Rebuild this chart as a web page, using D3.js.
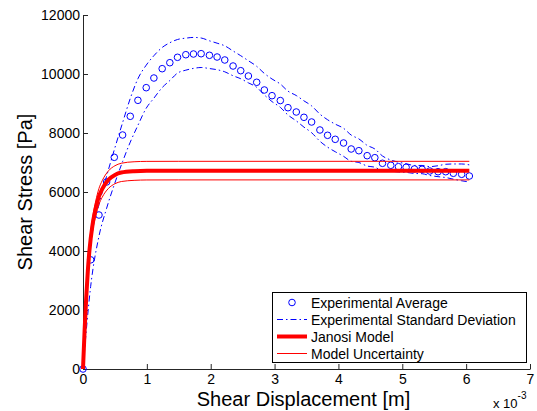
<!DOCTYPE html>
<html>
<head>
<meta charset="utf-8">
<script src="https://cdn.jsdelivr.net/npm/d3@7"></script>
<style>
  html, body { margin: 0; padding: 0; background: #fff; }
  svg { display: block; font-family: "Liberation Sans", Arial, Helvetica, sans-serif; }
</style>
</head>
<body>
<svg id="chart" width="537" height="411"></svg>
<script>
// ---- Data (x in units of 1e-3 m, stress in Pa) ----
const expX = [0, 0.12, 0.25, 0.37, 0.49, 0.62, 0.74, 0.86, 0.99, 1.11, 1.24, 1.36, 1.48, 1.61, 1.73, 1.85, 1.98, 2.10, 2.22, 2.35, 2.47, 2.59, 2.72, 2.84, 2.96, 3.09, 3.21, 3.34, 3.46, 3.58, 3.71, 3.83, 3.95, 4.08, 4.20, 4.32, 4.45, 4.57, 4.69, 4.82, 4.94, 5.06, 5.19, 5.31, 5.43, 5.56, 5.68, 5.80, 5.93, 6.05];
const expAvg = [0, 3700, 5220, 6340, 7176, 7932, 8566, 9108, 9536, 9864, 10180, 10383, 10566, 10654, 10678, 10688, 10634, 10576, 10475, 10271, 10112, 9932, 9719, 9458, 9265, 9100, 8858, 8712, 8532, 8373, 8102, 7922, 7786, 7661, 7458, 7400, 7231, 7163, 6973, 6905, 6858, 6837, 6780, 6770, 6712, 6688, 6688, 6634, 6600, 6542];
const stdUpper = [0, 4400, 5570, 6540, 7430, 8350, 9170, 9840, 10300, 10620, 10900, 11060, 11170, 11215, 11240, 11220, 11125, 11045, 10955, 10780, 10620, 10450, 10260, 10020, 9830, 9660, 9420, 9270, 9090, 8920, 8640, 8450, 8300, 8160, 7930, 7800, 7580, 7460, 7220, 7085, 7010, 6960, 6900, 6900, 6860, 6890, 6940, 6950, 6950, 6920];
const stdLower = [0, 2800, 4500, 5450, 6250, 7030, 7690, 8260, 8840, 9180, 9540, 9780, 10030, 10130, 10190, 10220, 10185, 10145, 10075, 9940, 9840, 9700, 9550, 9290, 9065, 8870, 8610, 8410, 8200, 8010, 7720, 7520, 7365, 7210, 7040, 7000, 6880, 6840, 6720, 6705, 6680, 6665, 6630, 6620, 6560, 6520, 6490, 6435, 6380, 6340];

const modelX = [0, 0.025, 0.05, 0.075, 0.1, 0.15, 0.2, 0.25, 0.3, 0.4, 0.5, 0.6, 0.8, 1.0, 1.5, 6.05];
const janosi = [0, 1300, 2400, 3300, 4000, 4900, 5450, 5850, 6100, 6420, 6580, 6660, 6705, 6718, 6720, 6720];
const uncUpper = [0, 1360, 2500, 3450, 4200, 5130, 5700, 6120, 6380, 6720, 6890, 6975, 7025, 7038, 7040, 7040];
const uncLower = [0, 1240, 2290, 3150, 3815, 4675, 5200, 5580, 5820, 6125, 6280, 6355, 6395, 6408, 6410, 6410];

const xTicks = [0, 1, 2, 3, 4, 5, 6, 7];
const yTicks = [0, 2000, 4000, 6000, 8000, 10000, 12000];
const legendLabels = ["Experimental Average", "Experimental Standard Deviation", "Janosi Model", "Model Uncertainty"];

// ---- Layout ----
const svg = d3.select("#chart");
const L = 83, R = 530, T = 15, B = 369;
const x = d3.scaleLinear().domain([0, 7]).range([L, R]);
const y = d3.scaleLinear().domain([0, 12000]).range([B, T]);
const BLUE = "#0000ff", RED = "#ff0000";

// Axes
const xAxis = d3.axisBottom(x).tickValues(xTicks).tickFormat(d3.format("d"))
  .tickSizeInner(-5).tickSizeOuter(0).tickPadding(5);
const yAxis = d3.axisLeft(y).tickValues(yTicks).tickFormat(d3.format("d"))
  .tickSizeInner(-5).tickSizeOuter(0).tickPadding(3);

const gx = svg.append("g").attr("transform", `translate(0,${B})`).call(xAxis);
const gy = svg.append("g").attr("transform", `translate(${L},0)`).call(yAxis);
[gx, gy].forEach(g => {
  g.selectAll("path, line").attr("stroke", "#262626");
  g.selectAll("text").attr("fill", "#000").style("font-size", "14px")
    .style("font-family", '"Liberation Sans", Arial, Helvetica, sans-serif');
});

// Lines
const line = (xs, ys) => d3.line().x((d, i) => x(xs[i])).y(d => y(d))(ys);
const smooth = (xs, ys) => d3.line().curve(d3.curveMonotoneX).x((d, i) => x(xs[i])).y(d => y(d))(ys);

const plot = svg.append("g");
// Experimental average circles
plot.selectAll("circle.avg").data(expAvg).join("circle")
  .attr("class", "avg")
  .attr("cx", (d, i) => x(expX[i])).attr("cy", d => y(d)).attr("r", 3.3)
  .attr("fill", "none").attr("stroke", BLUE).attr("stroke-width", 1);
// Std lines
[stdUpper, stdLower].forEach(s => {
  plot.append("path").attr("d", smooth(expX, s))
    .attr("fill", "none").attr("stroke", BLUE).attr("stroke-width", 1)
    .attr("stroke-dasharray", "6,3,1.5,3");
});
// Model
plot.append("path").attr("d", smooth(modelX, janosi))
  .attr("fill", "none").attr("stroke", RED).attr("stroke-width", 4);
[uncUpper, uncLower].forEach(s => {
  plot.append("path").attr("d", smooth(modelX, s))
    .attr("fill", "none").attr("stroke", RED).attr("stroke-width", 1);
});

// Axis labels
svg.append("text").attr("x", (L + R) / 2 - 3).attr("y", 406).attr("text-anchor", "middle")
  .style("font-size", "20px").text("Shear Displacement [m]");
svg.append("text").attr("transform", `translate(32,${(T + B) / 2}) rotate(-90)`)
  .attr("text-anchor", "middle").style("font-size", "20px").text("Shear Stress [Pa]");
const exp = svg.append("text").attr("x", 493).attr("y", 408).style("font-size", "13px");
exp.append("tspan").text("x 10");
exp.append("tspan").attr("dy", -9).style("font-size", "10px").text("-3");

// Legend
const lg = svg.append("g");
lg.append("rect").attr("x", 272.5).attr("y", 292.5).attr("width", 254).attr("height", 70)
  .attr("fill", "#fff").attr("stroke", "#000").attr("stroke-width", 1);
const rowY = [302.5, 319.5, 336.5, 353.5];
const sx1 = 277, sx2 = 307, tx = 311;
legendLabels.forEach((lab, i) => {
  lg.append("text").attr("x", tx).attr("y", rowY[i] + 5).style("font-size", "14px").text(lab);
});
lg.append("circle").attr("cx", (sx1 + sx2) / 2).attr("cy", rowY[0]).attr("r", 3.3)
  .attr("fill", "none").attr("stroke", BLUE);
lg.append("line").attr("x1", sx1).attr("x2", sx2).attr("y1", rowY[1]).attr("y2", rowY[1])
  .attr("stroke", BLUE).attr("stroke-dasharray", "6,3,1.5,3");
lg.append("line").attr("x1", sx1).attr("x2", sx2).attr("y1", rowY[2]).attr("y2", rowY[2])
  .attr("stroke", RED).attr("stroke-width", 4);
lg.append("line").attr("x1", sx1).attr("x2", sx2).attr("y1", rowY[3]).attr("y2", rowY[3])
  .attr("stroke", RED).attr("stroke-width", 1);
</script>
</body>
</html>
